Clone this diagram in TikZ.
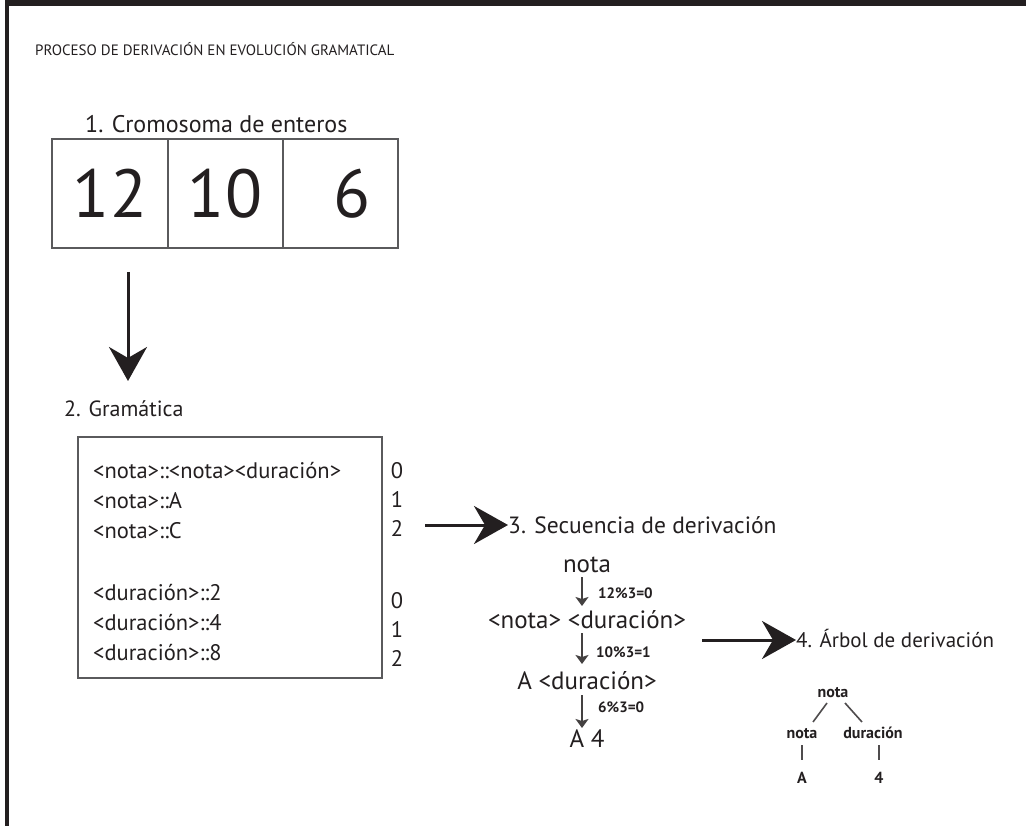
\documentclass[tikz,border=0pt]{standalone}
\usepackage{fontspec}
\setmainfont{PT Sans}
\usetikzlibrary{arrows.meta}
\definecolor{ink}{HTML}{231F20}
\definecolor{boxline}{HTML}{5A5A5C}
\begin{document}
\begin{tikzpicture}[x=1pt,y=-1pt,
  txt/.style={inner sep=0pt, text=ink, anchor=base west},
  ctxt/.style={inner sep=0pt, text=ink, anchor=base},
  steplabel/.style={txt, font=\fontsize{#1}{26}\selectfont},
  bigarrow/.style={draw=ink, line width=3pt, -{Stealth[length=34pt, width=38pt, inset=11pt]}},
  smallarrow/.style={draw=ink!85, line width=1.6pt, -{Stealth[length=9pt, width=13pt, inset=2pt]}},
  treeline/.style={draw=ink!80, line width=1.6pt},
  cell/.style={draw=boxline, line width=1.4pt}]
\useasboundingbox (0,0) rectangle (1026,826);
\fill[white] (0,0) rectangle (1026,826);
% page frame: top and left edges
\fill[ink] (5,0) rectangle (1026,6);
\fill[ink] (5,0) rectangle (9,826);

% title
\node[txt, font=\fontsize{15}{18}\selectfont] (title) at (35,56) {PROCESO DE DERIVACIÓN EN EVOLUCIÓN GRAMATICAL};

% 1. chromosome
\node[steplabel=24] (lab1) at (85,133) {1. Cromosoma de enteros};
\draw[cell] (52,139) rectangle (398,248);
\draw[cell] (168,139) -- (168,248);
\draw[cell] (283,139) -- (283,248);
\node[ctxt, font=\fontsize{68}{70}\selectfont] (g1) at (110,218) {12};
\node[ctxt, font=\fontsize{68}{70}\selectfont] (g2) at (225,218) {10};
\node[ctxt, font=\fontsize{68}{70}\selectfont] (g3) at (352,218) {6};

% arrow down to the grammar
\coordinate (a1s) at (128,272);
\coordinate (a1e) at (128,381);
\draw[bigarrow] (a1s) -- (a1e);

% 2. grammar
\node[steplabel=22] (lab2) at (64,417) {2. Gramática};
\draw[cell] (78,437) rectangle (382,678);
\begin{scope}[font=\fontsize{22.5}{24}\selectfont]
\node[txt] (r1) at (93,478) {<nota>::<nota><duración>};
\node[txt] (r2) at (93,508) {<nota>::A};
\node[txt] (r3) at (93,538) {<nota>::C};
\node[txt] (r4) at (93,600) {<duración>::2};
\node[txt] (r5) at (93,630) {<duración>::4};
\node[txt] (r6) at (93,660) {<duración>::8};
\node[ctxt] (i1) at (397,478) {0};
\node[ctxt] (i2) at (397,507) {1};
\node[ctxt] (i3) at (397,536) {2};
\node[ctxt] (i4) at (397,608) {0};
\node[ctxt] (i5) at (397,637) {1};
\node[ctxt] (i6) at (397,666) {2};
\end{scope}

% 3. derivation sequence
\coordinate (a2s) at (425,525);
\node[steplabel=23.5] (lab3) at (508,533) {3. Secuencia de derivación};
\draw[bigarrow] (a2s) -- (lab3.west |- a2s);

\begin{scope}[font=\fontsize{25}{28}\selectfont]
\node[ctxt] (d1) at (587,572) {nota};
\node[ctxt] (d2) at (587,628) {<nota> <duración>};
\node[ctxt] (d3) at (587,689) {A <duración>};
\node[ctxt] (d4) at (587,747) {A 4};
\end{scope}
\begin{scope}[font=\bfseries\fontsize{15}{17}\selectfont]
\node[txt] (m1) at (598,598) {12\%3=0};
\node[txt] (m2) at (596,657) {10\%3=1};
\node[txt] (m3) at (598,712) {6\%3=0};
\end{scope}
\coordinate (s1a) at (582,577); \coordinate (s1b) at (582,606);
\coordinate (s2a) at (582,633); \coordinate (s2b) at (582,664);
\coordinate (s3a) at (582,695); \coordinate (s3b) at (582,728);
\draw[smallarrow] (s1a) -- (s1b);
\draw[smallarrow] (s2a) -- (s2b);
\draw[smallarrow] (s3a) -- (s3b);

% 4. derivation tree
\coordinate (a3s) at (702,640);
\node[steplabel=21] (lab4) at (796,647) {4. Árbol de derivación};
\draw[bigarrow] (a3s) -- (lab4.west |- a3s);

\begin{scope}[font=\bfseries\fontsize{16}{18}\selectfont]
\node[ctxt] (t0) at (833,697) {nota};
\node[ctxt] (t1) at (802,738) {nota};
\node[ctxt] (t2) at (873,738) {duración};
\node[ctxt] (t3) at (802,783) {A};
\node[ctxt] (t4) at (879,783) {4};
\end{scope}
\draw[treeline] (827,703) -- (813,722);
\draw[treeline] (845,703) -- (862,722);
\draw[treeline] (t1.south |- 0,745) -- (t1.south |- 0,760);
\draw[treeline] (t4.north |- 0,745) -- (t4.north |- 0,760);
\end{tikzpicture}
\end{document}
